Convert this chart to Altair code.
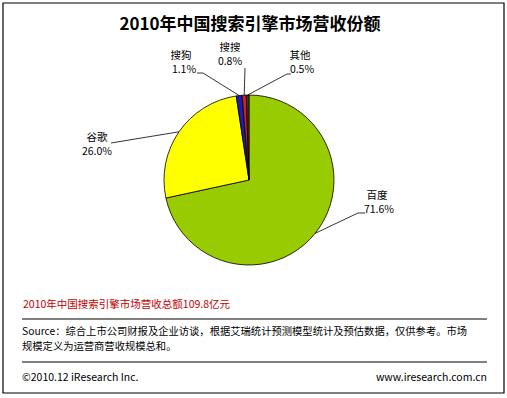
import math
import altair as alt
import pandas as pd

# ---- data ----
names = ["百度", "谷歌", "搜狗", "搜搜", "其他"]
shares = [71.6, 26.0, 1.1, 0.8, 0.5]
pct_labels = ["71.6%", "26.0%", "1.1%", "0.8%", "0.5%"]
colors = ["#99CC00", "#FFFF00", "#1C1CB0", "#C8202C", "#5A2A2A"]

title_text = "2010年中国搜索引擎市场营收份额"
total_text = "2010年中国搜索引擎市场营收总额109.8亿元"
source_lines = [
    "Source：综合上市公司财报及企业访谈，根据艾瑞统计预测模型统计及预估数据，仅供参考。市场",
    "规模定义为运营商营收规模总和。",
]
footer_left = "©2010.12 iResearch Inc."
footer_right = "www.iresearch.com.cn"

# ---- layout ----
W, H = 507, 398
CX, CY, R = 249, 180, 85
FONT = "Noto Sans CJK SC"
# label centres (name line, pct line) and leader elbow / end points (layout only)
label_pos = {
    "百度": (377, 196, 379, 210, (358, 213), (365, 213)),
    "谷歌": (97, 138, 97, 152, (111, 143), (111, 143)),
    "搜狗": (181, 56, 184, 69.5, (203, 73), (197, 73)),
    "搜搜": (230, 47.5, 230, 61.5, (245, 68), (245, 68)),
    "其他": (300, 56, 302, 69.5, (287, 74), (291, 74)),
}

pie_df = pd.DataFrame({"name": names, "value": shares, "idx": range(len(names))})

# leader lines: start at slice edge (mid-angle), computed from the shares
total = sum(shares)
rows, lab_rows = [], []
cum = 0.0
for n, v, p in zip(names, shares, pct_labels):
    mid = (cum + v / 2) / total * 2 * math.pi
    cum += v
    ex, ey = CX + R * math.sin(mid), CY - R * math.cos(mid)
    nx, ny, px_, py_, elbow, end = label_pos[n]
    for k, (px, py) in enumerate([(ex, ey), elbow, end]):
        rows.append({"name": n, "k": k, "px": px, "py": py})
    lab_rows.append({"name": n, "t": n, "lx": nx, "ly": ny})
    lab_rows.append({"name": n, "t": p, "lx": px_, "ly": py_})
lines_df = pd.DataFrame(rows)
labels_df = pd.DataFrame(lab_rows)

border = alt.Chart(pd.DataFrame({"a": [0]})).mark_rect(
    fill="white", stroke="black", strokeWidth=1.2
).encode(x=alt.value(3), x2=alt.value(504), y=alt.value(3), y2=alt.value(393))

pie = alt.Chart(pie_df).mark_arc(radius=R, stroke="black", strokeWidth=0.8).encode(
    theta=alt.Theta("value:Q", stack=True),
    color=alt.Color("name:N", scale=alt.Scale(domain=names, range=colors), legend=None),
    order=alt.Order("idx:Q"),
    x=alt.value(CX),
    y=alt.value(CY),
)

leaders = alt.Chart(lines_df).mark_line(color="black", strokeWidth=0.8).encode(
    x=alt.X("px:Q", scale=None, axis=None),
    y=alt.Y("py:Q", scale=None, axis=None),
    detail="name:N",
    order="k:Q",
)

labels = alt.Chart(labels_df).mark_text(
    font=FONT, fontSize=10.5, align="center", baseline="middle", color="black"
).encode(
    x=alt.X("lx:Q", scale=None, axis=None),
    y=alt.Y("ly:Q", scale=None, axis=None),
    text="t:N",
)


def text_layer(t, x, y, size=11, align="left", color="black", weight="normal"):
    return alt.Chart(pd.DataFrame({"t": [t]})).mark_text(
        font=FONT, fontSize=size, align=align, baseline="middle", color=color,
        fontWeight=weight
    ).encode(text="t:N", x=alt.value(x), y=alt.value(y))


def hline(y):
    return alt.Chart(pd.DataFrame({"a": [0]})).mark_rule(
        color="black", strokeWidth=1
    ).encode(x=alt.value(22), x2=alt.value(487), y=alt.value(y))


title = text_layer(title_text, 250, 25, size=17, align="center", weight="bold")
total_t = text_layer(total_text, 23, 305, size=10.5, color="#C00000")
src1 = text_layer(source_lines[0], 22, 332, size=10.3)
src2 = text_layer(source_lines[1], 22, 346.5, size=10.3)
fl = text_layer(footer_left, 22, 378, size=10.5)
fr = text_layer(footer_right, 487, 378, size=10.5, align="right")

chart = alt.layer(
    border, pie, leaders, labels, title, total_t, hline(319), src1, src2, hline(362), fl, fr
).properties(
    width=W, height=H, autosize=alt.AutoSizeParams(type="none"), padding=0
).configure_view(stroke=None)

chart.save("out.html", embed_options={"renderer": "svg", "actions": False})
